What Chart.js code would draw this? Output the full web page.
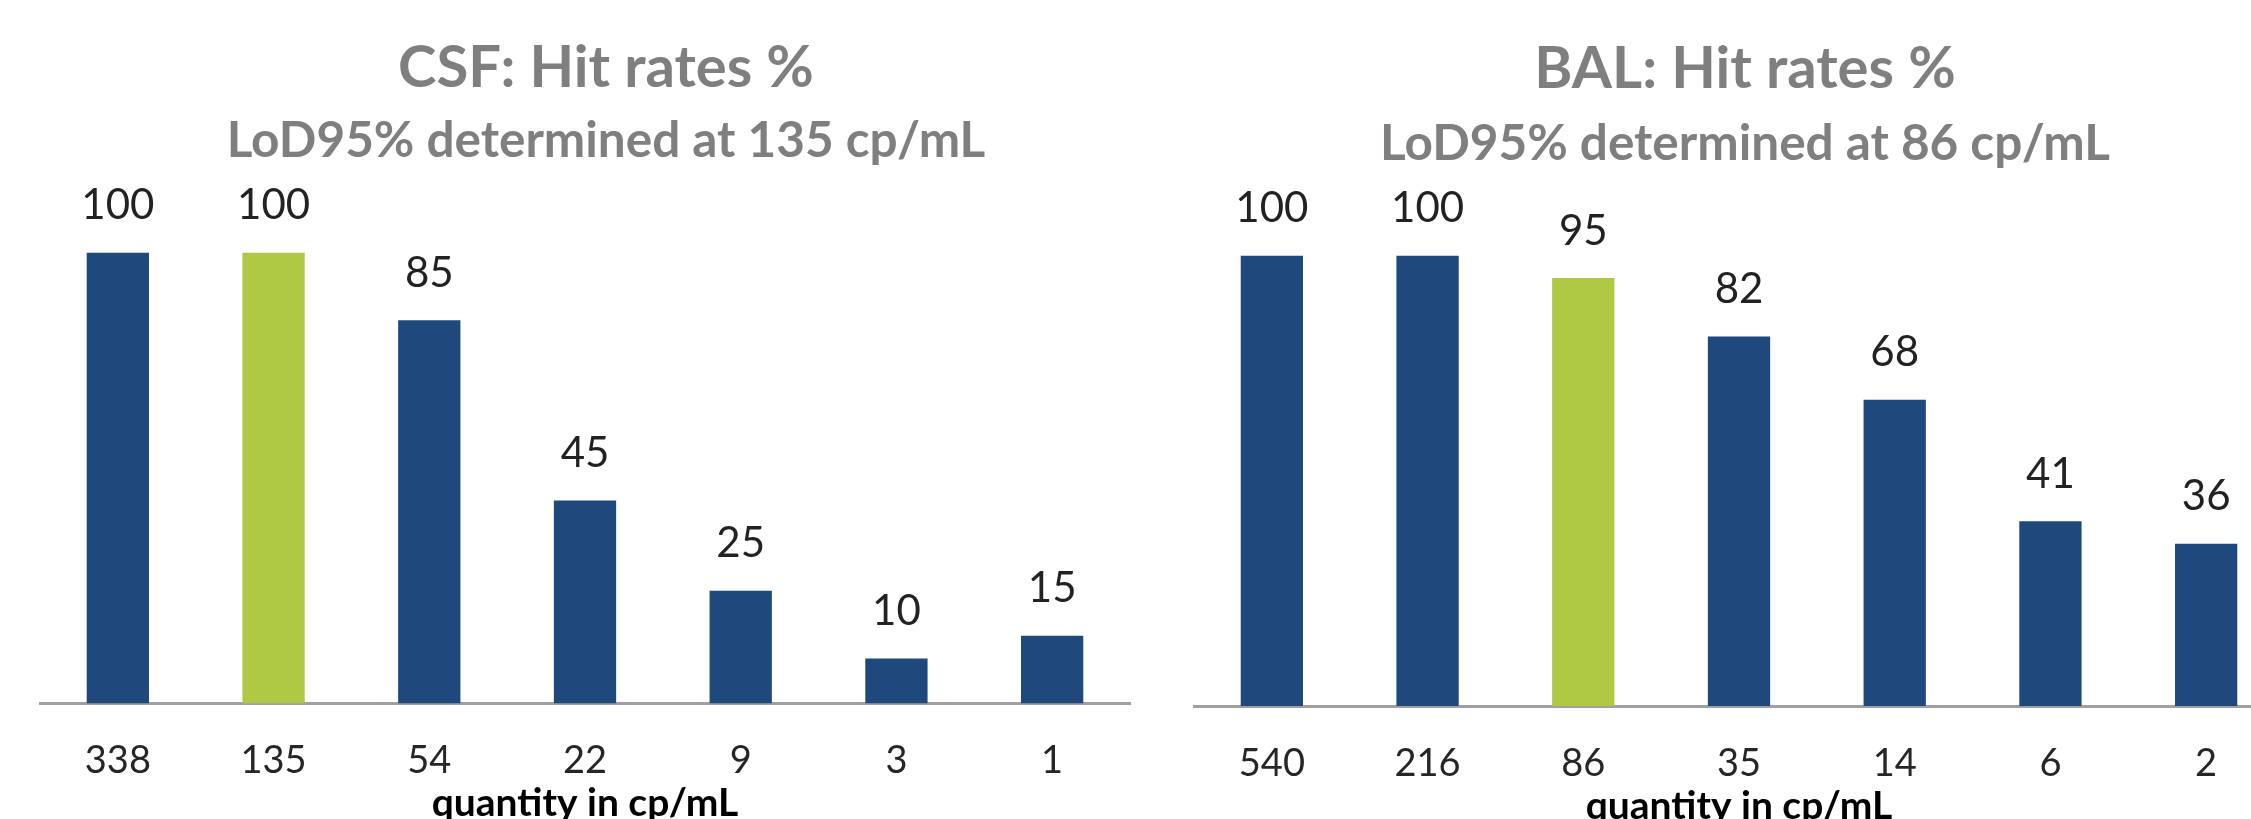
<!DOCTYPE html>
<html>
<head>
<meta charset="utf-8">
<script src="https://cdn.jsdelivr.net/npm/chart.js@4.4.1/dist/chart.umd.min.js"></script>
<style>
  html, body { margin: 0; padding: 0; width: 2251px; height: 819px; overflow: hidden; background: #ffffff; }
  .box { position: absolute; top: 0; width: 1170px; height: 840px; }
  #csfBox { left: 0px; }
  #balBox { left: 1154px; }
</style>
</head>
<body>
<div id="csfBox" class="box"><canvas id="csfChart"></canvas></div>
<div id="balBox" class="box"><canvas id="balChart"></canvas></div>
<script>
// ---- data ----
const csfLabels = ['338', '135', '54', '22', '9', '3', '1'];
const csfValues = [100, 100, 85, 45, 25, 10, 15];
const csfLod = '135';
const csfTitle = 'CSF: Hit rates %';
const csfSubtitle = 'LoD95% determined at 135 cp/mL';

const balLabels = ['540', '216', '86', '35', '14', '6', '2'];
const balValues = [100, 100, 95, 82, 68, 41, 36];
const balLod = '86';
const balTitle = 'BAL: Hit rates %';
const balSubtitle = 'LoD95% determined at 86 cp/mL';

const xAxisTitle = 'quantity in cp/mL';

// ---- styles ----
const NAVY = '#1F497D';
const GREEN = '#B0C944';
const FONT = 'Lato';

const valueLabels = {
  id: 'valueLabels',
  afterDatasetsDraw(chart, args, opts) {
    const ctx = chart.ctx;
    const meta = chart.getDatasetMeta(0);
    const data = chart.data.datasets[0].data;
    ctx.save();
    ctx.font = opts.size + 'px ' + FONT;
    ctx.fillStyle = opts.color;
    ctx.textAlign = 'center';
    ctx.textBaseline = 'alphabetic';
    meta.data.forEach((bar, i) => {
      ctx.fillText(String(data[i]), bar.x, bar.y - opts.gap);
    });
    ctx.restore();
  }
};

const headings = {
  id: 'headings',
  afterDraw(chart, args, opts) {
    const ctx = chart.ctx;
    const ca = chart.chartArea;
    const cx = (ca.left + ca.right) / 2 + opts.shift;
    ctx.save();
    ctx.textAlign = 'center';
    ctx.textBaseline = 'alphabetic';
    ctx.fillStyle = opts.color;
    ctx.font = 'bold ' + opts.titleSize + 'px ' + FONT;
    ctx.fillText(opts.title, cx, opts.titleBase);
    ctx.font = 'bold ' + opts.subSize + 'px ' + FONT;
    ctx.fillText(opts.subtitle, cx, opts.subBase);
    ctx.restore();
  }
};

function makeChart(canvasId, labels, values, lod, title, subtitle, layout) {
  return new Chart(document.getElementById(canvasId), {
    type: 'bar',
    data: {
      labels: labels,
      datasets: [{
        data: values,
        backgroundColor: labels.map(l => l === lod ? GREEN : NAVY),
        borderWidth: 0,
        barPercentage: 0.4,
        categoryPercentage: 1.0
      }]
    },
    options: {
      responsive: true,
      maintainAspectRatio: false,
      devicePixelRatio: 1,
      animation: false,
      layout: { padding: { top: layout.top, bottom: layout.bottom, left: 40, right: 40 } },
      plugins: {
        legend: { display: false },
        tooltip: { enabled: false },
        title: { display: false },
        valueLabels: { size: 42, color: '#222222', gap: 33.5 },
        headings: {
          title: title, subtitle: subtitle, color: '#7F7F7F',
          titleSize: 58, subSize: 49.5,
          shift: layout.shift, titleBase: layout.titleBase, subBase: layout.subBase
        }
      },
      scales: {
        x: {
          grid: { display: false, drawTicks: false, tickLength: 0 },
          border: { display: true, color: '#A0A0A0', width: 3 },
          ticks: {
            font: { family: FONT, size: 38 },
            color: '#262626',
            padding: 34.5,
            maxRotation: 0,
            autoSkip: false
          },
          title: {
            display: true,
            text: xAxisTitle,
            color: '#000000',
            font: { family: FONT, size: 39, weight: 'bold' },
            padding: { top: -38, bottom: 0 }
          }
        },
        y: { display: false, min: 0, max: 100 }
      }
    },
    plugins: [valueLabels, headings]
  });
}

makeChart('csfChart', csfLabels, csfValues, csfLod, csfTitle, csfSubtitle,
  { top: 252.5, bottom: 13.1, shift: 21, titleBase: 87, subBase: 157 });
makeChart('balChart', balLabels, balValues, balLod, balTitle, balSubtitle,
  { top: 255.5, bottom: 10.6, shift: 6, titleBase: 88, subBase: 160 });
</script>
</body>
</html>
